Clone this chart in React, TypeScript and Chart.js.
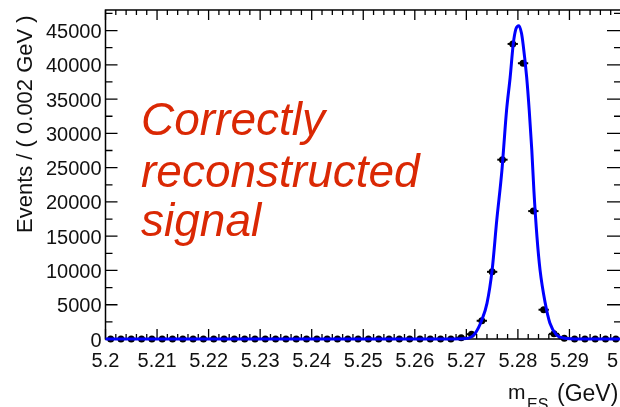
import React, { useEffect, useRef } from "react";
import { Chart, registerables } from "chart.js";

Chart.register(...registerables);

// ---- data ----
const binCenters = [
  5.201, 5.203, 5.205, 5.207, 5.209, 5.211, 5.213, 5.215, 5.217, 5.219,
  5.221, 5.223, 5.225, 5.227, 5.229, 5.231, 5.233, 5.235, 5.237, 5.239,
  5.241, 5.243, 5.245, 5.247, 5.249, 5.251, 5.253, 5.255, 5.257, 5.259,
  5.261, 5.263, 5.265, 5.267, 5.269, 5.271, 5.273, 5.275, 5.277, 5.279,
  5.281, 5.283, 5.285, 5.287, 5.289, 5.291, 5.293, 5.295, 5.297, 5.299,
];
const eventCounts = [
  0, 0, 0, 0, 0, 0, 0, 0, 0, 0,
  0, 0, 0, 0, 0, 0, 0, 0, 0, 0,
  0, 0, 0, 0, 0, 0, 0, 0, 0, 0,
  0, 0, 0, 0, 200, 700, 2660, 9800, 26160, 43050,
  40230, 18660, 4270, 750, 100, 0, 0, 0, 0, 0,
];
const binHalfWidth = 0.001;

const fitX = [
  5.2, 5.26, 5.266, 5.27, 5.2717, 5.273, 5.274, 5.275, 5.2759, 5.2769,
  5.2772, 5.2778, 5.2785, 5.2791, 5.2796, 5.2802, 5.2807, 5.281, 5.2817,
  5.2822, 5.2827, 5.2831, 5.2837, 5.2843, 5.2853, 5.2862, 5.2875, 5.2888,
  5.292, 5.3,
];
const fitY = [
  0, 0, 10, 80, 830, 2770, 5200, 10050, 17330, 24600,
  27520, 33340, 38190, 43050, 45200, 45720, 44600, 43050, 38190,
  33340, 27520, 21700, 14900, 10050, 5240, 2330, 580, 150,
  5, 0,
];

const xTickValues = [5.2, 5.21, 5.22, 5.23, 5.24, 5.25, 5.26, 5.27, 5.28, 5.29, 5.3];
const xTickLabels = ["5.2", "5.21", "5.22", "5.23", "5.24", "5.25", "5.26", "5.27", "5.28", "5.29", "5.3"];
const xMinorStep = 0.002;
const yTickValues = [0, 5000, 10000, 15000, 20000, 25000, 30000, 35000, 40000, 45000];
const yTickLabels = ["0", "5000", "10000", "15000", "20000", "25000", "30000", "35000", "40000", "45000"];
const yMinorStep = 2500;

const X_MIN = 5.2;
const X_MAX = 5.3;
const Y_MIN = 0;
const Y_MAX = 48000;

const yTitle = "Events / ( 0.002 GeV )";
const xTitleMain = "m";
const xTitleSub = "ES";
const xTitleUnit = "(GeV)";
const annotationLines = ["Correctly", "reconstructed", "signal"];

const FONT = '"Liberation Sans", Arial, Helvetica, sans-serif';

export default function App() {
  const ref = useRef<HTMLCanvasElement>(null);

  useEffect(() => {
    const canvas = ref.current!;

    const axesPlugin = {
      id: "rootAxes",
      beforeDatasetsDraw(chart: any) {
        const ctx = chart.ctx as CanvasRenderingContext2D;
        const { left, right, top, bottom } = chart.chartArea;
        const xs = chart.scales.x;
        const ys = chart.scales.y;
        ctx.save();
        ctx.strokeStyle = "#000";
        ctx.lineWidth = 1.5;
        ctx.strokeRect(left, top, right - left, bottom - top);

        ctx.lineWidth = 1.3;
        // x ticks (top & bottom)
        const nX = Math.round((X_MAX - X_MIN) / xMinorStep);
        for (let i = 0; i <= nX; i++) {
          const v = X_MIN + i * xMinorStep;
          const px = xs.getPixelForValue(v);
          const major = i % 5 === 0;
          const len = major ? 10 : 5;
          ctx.beginPath();
          ctx.moveTo(px, top);
          ctx.lineTo(px, top + len);
          ctx.moveTo(px, bottom);
          ctx.lineTo(px, bottom - len);
          ctx.stroke();
        }
        // y ticks (left & right)
        const nY = Math.floor((Y_MAX - Y_MIN) / yMinorStep);
        for (let i = 0; i <= nY; i++) {
          const v = Y_MIN + i * yMinorStep;
          const py = ys.getPixelForValue(v);
          const major = i % 2 === 0;
          ctx.beginPath();
          ctx.moveTo(left, py);
          ctx.lineTo(left + (major ? 12 : 7), py);
          ctx.moveTo(right, py);
          ctx.lineTo(right - (major ? 14 : 7), py);
          ctx.stroke();
        }

        // horizontal error bars on data points
        ctx.lineWidth = 2;
        for (let i = 0; i < binCenters.length; i++) {
          const py = ys.getPixelForValue(eventCounts[i]);
          const x0 = xs.getPixelForValue(binCenters[i] - binHalfWidth);
          const x1 = xs.getPixelForValue(binCenters[i] + binHalfWidth);
          ctx.beginPath();
          ctx.moveTo(x0, py);
          ctx.lineTo(x1, py);
          ctx.stroke();
        }
        ctx.restore();
      },
      afterDraw(chart: any) {
        const ctx = chart.ctx as CanvasRenderingContext2D;
        const { left } = chart.chartArea;
        const xs = chart.scales.x;
        const ys = chart.scales.y;
        ctx.save();
        ctx.fillStyle = "#111";
        // y tick labels
        ctx.font = `20px ${FONT}`;
        ctx.textAlign = "right";
        ctx.textBaseline = "middle";
        yTickValues.forEach((v, i) => {
          ctx.fillText(yTickLabels[i], left - 4, ys.getPixelForValue(v) + 2);
        });
        // x tick labels
        ctx.textAlign = "center";
        ctx.textBaseline = "alphabetic";
        xTickValues.forEach((v, i) => {
          ctx.fillText(xTickLabels[i], xs.getPixelForValue(v), 367);
        });
        // y title
        ctx.save();
        ctx.font = `22px ${FONT}`;
        ctx.translate(32, 233);
        ctx.rotate(-Math.PI / 2);
        ctx.textAlign = "left";
        ctx.fillText(yTitle, 0, 0);
        ctx.restore();
        // x title
        ctx.textAlign = "left";
        ctx.font = `21px ${FONT}`;
        ctx.fillText(xTitleMain, 508, 399);
        ctx.font = `16px ${FONT}`;
        ctx.fillText(xTitleSub, 527, 410);
        ctx.font = `23px ${FONT}`;
        ctx.fillText(xTitleUnit, 557, 401);
        // annotation
        ctx.fillStyle = "rgb(218, 40, 4)";
        ctx.font = `italic 46px ${FONT}`;
        const baselines = [135, 187, 236];
        annotationLines.forEach((t, i) => ctx.fillText(t, 141, baselines[i]));
        ctx.restore();
      },
    };

    const chart = new Chart(canvas, {
      type: "scatter",
      data: {
        datasets: [
          {
            label: "fit",
            data: fitX.map((x, i) => ({ x, y: fitY[i] })),
            showLine: true,
            borderColor: "#0000ff",
            backgroundColor: "#0000ff",
            borderWidth: 3,
            pointRadius: 0,
            cubicInterpolationMode: "monotone",
            clip: false,
          } as any,
          {
            label: "data",
            data: binCenters.map((x, i) => ({ x, y: eventCounts[i] })),
            pointRadius: 3.5,
            backgroundColor: "#000",
            borderColor: "#000",
            borderWidth: 0,
            clip: false,
          } as any,
        ],
      },
      options: {
        animation: false,
        responsive: false,
        devicePixelRatio: 1,
        events: [],
        layout: { padding: { left: 105.5, right: 19, top: 10, bottom: 68 } },
        scales: {
          x: { type: "linear", min: X_MIN, max: X_MAX, display: false },
          y: { type: "linear", min: Y_MIN, max: Y_MAX, display: false },
        },
        plugins: { legend: { display: false }, tooltip: { enabled: false } },
      },
      plugins: [axesPlugin],
    });
    return () => chart.destroy();
  }, []);

  return (
    <div
      style={{
        position: "absolute",
        left: 0,
        top: 0,
        width: 620,
        height: 407,
        overflow: "hidden",
        background: "#fff",
      }}
    >
      <canvas ref={ref} width={640} height={407} style={{ display: "block" }} />
    </div>
  );
}
